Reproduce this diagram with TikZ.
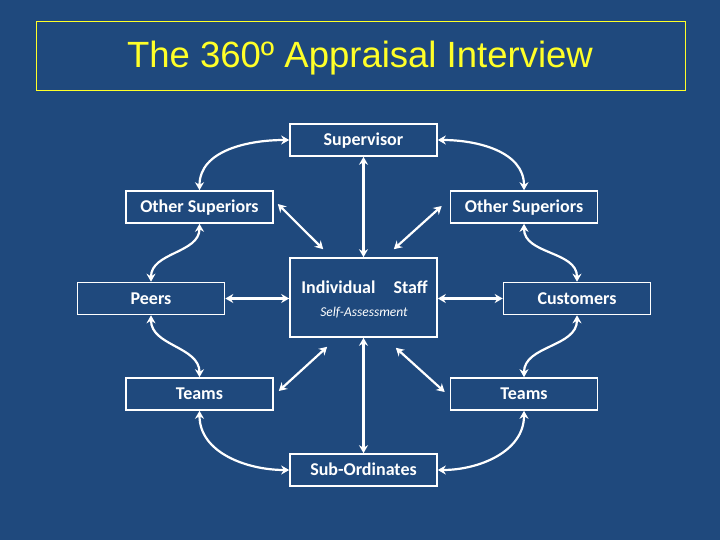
\documentclass[tikz,border=0pt]{standalone}
\usepackage{fontspec}
\setmainfont{Carlito}
\newfontfamily\titlefont{Liberation Sans}
\usetikzlibrary{arrows.meta,calc}
\definecolor{bgblue}{RGB}{31,73,125}
\definecolor{titleyellow}{RGB}{255,255,40}
\tikzset{
  box/.style={draw=white, line width=1.6pt, text=white, font=\bfseries\fontsize{18}{20}\selectfont,
    minimum width=147pt, minimum height=32pt, inner sep=0pt, text height=14pt, text depth=3pt},
  arr/.style={draw=white, line width=2.2pt,
    {Stealth[length=8pt,width=9pt]}-{Stealth[length=8pt,width=9pt]}}
}
\begin{document}
\begin{tikzpicture}[x=1pt,y=-1pt]
\fill[bgblue] (0,0) rectangle (720,540);
\useasboundingbox (0,0) rectangle (720,540);
% title
\node[draw=titleyellow, line width=0.8pt, minimum width=649pt, minimum height=69pt, inner sep=0pt] (title) at (360.5,55.5) {};
\node[text=titleyellow, font=\titlefont\fontsize{36.5}{40}\selectfont] (titlet) at (360,58) {The 360º Appraisal Interview};
% boxes
\node[box] (sup) at (363.5,140) {Supervisor};
\node[box] (osl) at (199.5,207) {Other Superiors};
\node[box] (osr) at (524,207) {Other Superiors};
\node[box, minimum height=79pt] (ind) at (363.5,297.5) {};
\node[text=white, font=\bfseries\fontsize{18}{20}\selectfont] (indt) at (364.5,287) {Individual\hspace{1.0em}Staff};
\node[text=white, font=\itshape\fontsize{13.5}{15}\selectfont] (self) at (364,313) {Self-Assessment};
\node[box] (peers) at (151,298.5) {Peers};
\node[box] (cust) at (577,298.5) {Customers};
\node[box] (tl) at (199.5,394) {Teams};
\node[box] (tr) at (524,394) {Teams};
\node[box] (sub) at (363.5,470) {Sub-Ordinates};
% straight connectors
\draw[arr] (sup.south) -- (ind.north);
\draw[arr] (ind.south) -- (sub.north);
\draw[arr] (peers.east) -- (peers.east -| ind.west);
\draw[arr] (ind.east |- cust.west) -- (cust.west);
\draw[arr] ($(osl.east)+(4,-3)$) -- ($(ind.north west)+(34,-8)$);
\draw[arr] ($(ind.north east)+(-44,-8)$) -- ($(osr.west)+(-8,-1)$);
\draw[arr] ($(tl.east)+(5,-3)$) -- ($(ind.south west)+(38,9)$);
\draw[arr] ($(ind.south east)+(-42,10)$) -- ($(tr.west)+(-5,-2)$);
% curved connectors
\draw[arr] (sup.west) to[out=180,in=90] (osl.north);
\draw[arr] (sup.east) to[out=0,in=90] (osr.north);
\draw[arr] (osl.south) to[out=-90,in=90] (peers.north);
\draw[arr] (osr.south) to[out=-90,in=90] (cust.north);
\draw[arr] (peers.south) to[out=-90,in=90] (tl.north);
\draw[arr] (cust.south) to[out=-90,in=90] (tr.north);
\draw[arr] (tl.south) to[out=-90,in=180] (sub.west);
\draw[arr] (tr.south) to[out=-90,in=0] (sub.east);
\end{tikzpicture}
\end{document}
